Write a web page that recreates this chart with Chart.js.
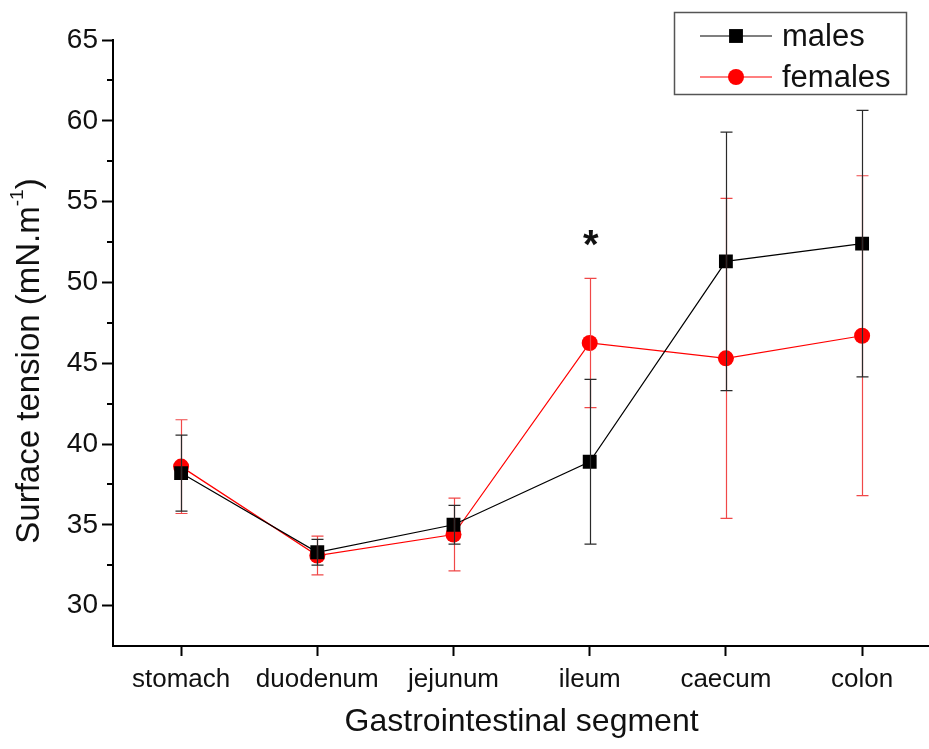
<!DOCTYPE html>
<html>
<head>
<meta charset="utf-8">
<script src="https://cdn.jsdelivr.net/npm/chart.js@4.4.1/dist/chart.umd.min.js"></script>
<style>
  html, body { margin: 0; padding: 0; background: #fff; overflow: hidden; }
  #wrap { width: 940px; height: 749px; }
</style>
</head>
<body>
<div id="wrap"><canvas id="tension"></canvas></div>
<script>
const segments = ['stomach', 'duodenum', 'jejunum', 'ileum', 'caecum', 'colon'];
const malesMean = [38.2, 33.3, 35.0, 38.9, 51.3, 52.4];
const malesSd = [2.35, 0.8, 1.2, 5.1, 8.0, 8.25];
const femalesMean = [38.6, 33.1, 34.4, 46.25, 45.3, 46.7];
const femalesSd = [2.9, 1.2, 2.25, 4.0, 9.9, 9.9];
const significance = ['', '', '', '*', '', ''];

const FONT = "'Liberation Sans', Arial, sans-serif";
Chart.defaults.font.family = FONT;
Chart.defaults.color = '#111';

// vertical mean +/- sd whiskers with caps
const errorBars = {
  id: 'errorBars',
  afterDatasetsDraw(chart) {
    const { ctx, scales: { x, y } } = chart;
    const sets = [
      [femalesMean, femalesSd, '#f04848'],
      [malesMean, malesSd, '#2a2a2a']
    ];
    ctx.save();
    ctx.lineWidth = 1.2;
    sets.forEach(([mean, sd, color]) => {
      ctx.strokeStyle = color;
      mean.forEach((m, i) => {
        const px = Math.round(x.getPixelForValue(i)) + 0.5;
        const top = y.getPixelForValue(m + sd[i]);
        const bot = y.getPixelForValue(m - sd[i]);
        ctx.beginPath();
        ctx.moveTo(px, top); ctx.lineTo(px, bot);
        ctx.moveTo(px - 6, top); ctx.lineTo(px + 6, top);
        ctx.moveTo(px - 6, bot); ctx.lineTo(px + 6, bot);
        ctx.stroke();
      });
    });
    ctx.restore();
  }
};

// short ticks between the labelled ones, stars, y title and the boxed legend
const extras = {
  id: 'extras',
  afterDraw(chart) {
    const { ctx, chartArea, scales: { x, y } } = chart;
    ctx.save();

    ctx.strokeStyle = '#000';
    ctx.lineWidth = 2;
    for (let v = 32.5; v < 65; v += 5) {
      const py = Math.round(y.getPixelForValue(v));
      ctx.beginPath();
      ctx.moveTo(chartArea.left - 6, py);
      ctx.lineTo(chartArea.left, py);
      ctx.stroke();
    }

    ctx.fillStyle = '#111';
    ctx.font = 'bold 40px ' + FONT;
    ctx.textAlign = 'center';
    ctx.textBaseline = 'alphabetic';
    significance.forEach((s, i) => {
      if (!s) return;
      const hi = Math.max(malesMean[i] + malesSd[i], femalesMean[i] + femalesSd[i]);
      ctx.fillText(s, x.getPixelForValue(i) + 1, y.getPixelForValue(hi) - 20);
    });

    // y axis title, with the -1 exponent raised
    ctx.save();
    ctx.translate(30, 361);
    ctx.rotate(-Math.PI / 2);
    const big = '33px ' + FONT, small = '19px ' + FONT;
    const a = 'Surface tension (mN.m', b = '-1', c = ')';
    ctx.font = big; const wa = ctx.measureText(a).width, wc = ctx.measureText(c).width;
    ctx.font = small; const wb = ctx.measureText(b).width;
    let tx = -(wa + wb + wc) / 2;
    ctx.textAlign = 'left';
    ctx.textBaseline = 'middle';
    ctx.font = big; ctx.fillText(a, tx, 0); tx += wa;
    ctx.font = small; ctx.fillText(b, tx, -12); tx += wb;
    ctx.font = big; ctx.fillText(c, tx, 0);
    ctx.restore();

    // legend
    const bx = 674, by = 12, bw = 232, bh = 82;
    ctx.lineWidth = 1.5;
    ctx.strokeStyle = '#555';
    ctx.strokeRect(bx + 0.5, by + 0.5, bw, bh);
    chart.data.datasets.forEach((ds, k) => {
      const cy = by + 24 + k * 41;
      ctx.strokeStyle = ds.borderColor;
      ctx.lineWidth = 1.2;
      ctx.beginPath();
      ctx.moveTo(bx + 26, cy);
      ctx.lineTo(bx + 98, cy);
      ctx.stroke();
      ctx.fillStyle = ds.pointBackgroundColor;
      Chart.helpers.drawPoint(ctx, { pointStyle: ds.pointStyle, radius: ds.pointRadius, rotation: 0, borderWidth: 0 }, bx + 62, cy);
      ctx.fillStyle = '#111';
      ctx.font = '31px ' + FONT;
      ctx.textAlign = 'left';
      ctx.textBaseline = 'middle';
      ctx.fillText(ds.label, bx + 108, cy + 1);
    });

    ctx.restore();
  }
};

new Chart(document.getElementById('tension'), {
  type: 'line',
  data: {
    labels: segments,
    datasets: [
      {
        label: 'males',
        data: malesMean,
        borderColor: '#000',
        borderWidth: 1.2,
        pointStyle: 'rect',
        pointRadius: 9.8,
        pointBackgroundColor: '#000',
        pointBorderWidth: 0,
        tension: 0
      },
      {
        label: 'females',
        data: femalesMean,
        borderColor: '#ff0000',
        borderWidth: 1.2,
        pointStyle: 'circle',
        pointRadius: 8,
        pointBackgroundColor: '#ff0000',
        pointBorderWidth: 0,
        tension: 0
      }
    ]
  },
  options: {
    responsive: true,
    maintainAspectRatio: false,
    animation: false,
    layout: { padding: { top: 40, right: 6, left: 0, bottom: 0 } },
    plugins: { legend: { display: false }, tooltip: { enabled: false } },
    scales: {
      x: {
        type: 'category',
        offset: true,
        grid: { drawOnChartArea: false, offset: false, tickLength: 10, tickColor: '#000', tickWidth: 2 },
        border: { color: '#000', width: 2 },
        ticks: { font: { size: 26 }, padding: 8, maxRotation: 0, autoSkip: false },
        title: { display: true, text: 'Gastrointestinal segment', font: { size: 32 }, padding: { bottom: 8 } },
        afterFit(scale) { scale.height = 103; }
      },
      y: {
        min: 27.5,
        max: 65,
        grid: { drawOnChartArea: false, tickLength: 11, tickColor: '#000', tickWidth: 2 },
        border: { color: '#000', width: 2 },
        ticks: { stepSize: 5, includeBounds: false, font: { size: 28 }, padding: 4 },
        afterFit(scale) { scale.width = 113; }
      }
    }
  },
  plugins: [errorBars, extras]
});
</script>
</body>
</html>
